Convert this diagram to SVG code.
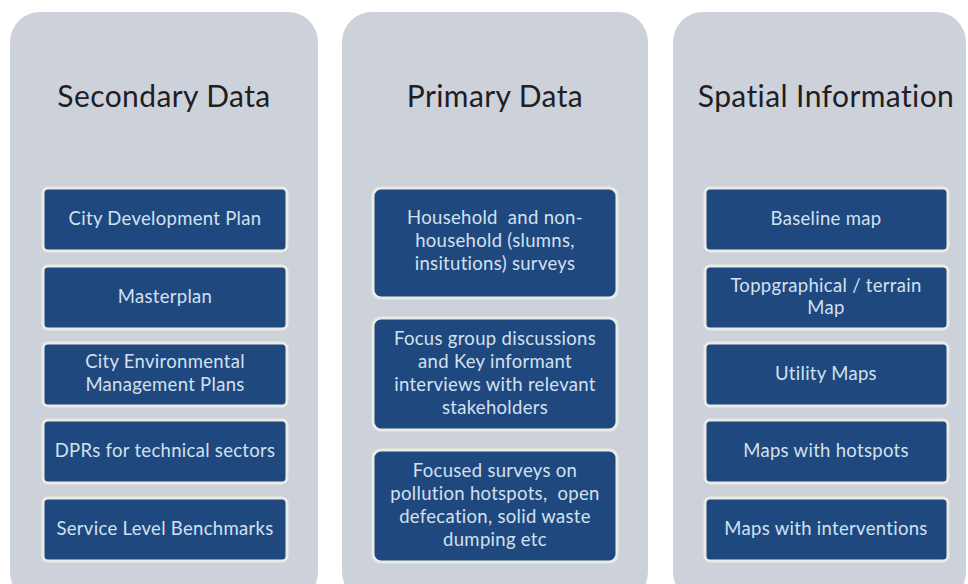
<svg xmlns="http://www.w3.org/2000/svg" width="968" height="584" viewBox="0 0 968 584">
  <defs>
    <style>
      .panel { fill: #cdd1d9; }
      .title { font-family: Lato, "Open Sans", "Liberation Sans", sans-serif; font-size: 30px; letter-spacing: 0.4px; fill: #1e1e24; text-anchor: middle; }
      .box { fill: #1f497e; stroke: #e9ece6; stroke-width: 3; }
      .lbl { font-family: Lato, "Open Sans", "Liberation Sans", sans-serif; font-size: 18.5px; letter-spacing: 0.3px; fill: #d3e0f0; text-anchor: middle; white-space: pre; }
    </style>
  </defs>
  <rect width="968" height="584" fill="#ffffff"/>

  <!-- Column 1: Secondary Data -->
  <g id="secondary">
    <rect class="panel" x="10" y="12" width="308" height="590" rx="30"/>
    <text class="title" x="164" y="107">Secondary Data</text>
  </g>
  <g id="city-development-plan">
    <rect class="box" x="43" y="188" width="244" height="63" rx="5"/>
    <text class="lbl" x="165" y="225">City Development Plan</text>
  </g>
  <g id="masterplan">
    <rect class="box" x="43" y="266" width="244" height="63" rx="5"/>
    <text class="lbl" x="165" y="303">Masterplan</text>
  </g>
  <g id="city-environmental">
    <rect class="box" x="43" y="343" width="244" height="63" rx="5"/>
    <text class="lbl" x="165" y="368">City Environmental</text>
    <text class="lbl" x="165" y="391">Management Plans</text>
  </g>
  <g id="dprs">
    <rect class="box" x="43" y="420" width="244" height="63" rx="5"/>
    <text class="lbl" x="165" y="457">DPRs for technical sectors</text>
  </g>
  <g id="service-level">
    <rect class="box" x="43" y="498" width="244" height="63" rx="5"/>
    <text class="lbl" x="165" y="535">Service Level Benchmarks</text>
  </g>

  <!-- Column 2: Primary Data -->
  <g id="primary">
    <rect class="panel" x="342" y="12" width="306" height="590" rx="30"/>
    <text class="title" x="495" y="107">Primary Data</text>
  </g>
  <g id="household-surveys">
    <rect class="box" x="373" y="188" width="244" height="110" rx="8"/>
    <text class="lbl" x="495" y="224">Household  and non-</text>
    <text class="lbl" x="495" y="247">household (slumns,</text>
    <text class="lbl" x="495" y="270">insitutions) surveys</text>
  </g>
  <g id="focus-groups">
    <rect class="box" x="373" y="318" width="244" height="112" rx="8"/>
    <text class="lbl" x="495" y="345">Focus group discussions</text>
    <text class="lbl" x="495" y="368">and Key informant</text>
    <text class="lbl" x="495" y="391">interviews with relevant</text>
    <text class="lbl" x="495" y="414">stakeholders</text>
  </g>
  <g id="focused-surveys">
    <rect class="box" x="373" y="450" width="244" height="112" rx="8"/>
    <text class="lbl" x="495" y="477">Focused surveys on</text>
    <text class="lbl" x="495" y="500">pollution hotspots,  open</text>
    <text class="lbl" x="495" y="523">defecation, solid waste</text>
    <text class="lbl" x="495" y="546">dumping etc</text>
  </g>

  <!-- Column 3: Spatial Information -->
  <g id="spatial">
    <rect class="panel" x="673" y="12" width="293" height="590" rx="30"/>
    <text class="title" x="826" y="107">Spatial Information</text>
  </g>
  <g id="baseline-map">
    <rect class="box" x="705" y="188" width="243" height="63" rx="5"/>
    <text class="lbl" x="826" y="225">Baseline map</text>
  </g>
  <g id="topographical-map">
    <rect class="box" x="705" y="266" width="243" height="63" rx="5"/>
    <text class="lbl" x="826" y="292">Toppgraphical / terrain</text>
    <text class="lbl" x="826" y="314">Map</text>
  </g>
  <g id="utility-maps">
    <rect class="box" x="705" y="343" width="243" height="63" rx="5"/>
    <text class="lbl" x="826" y="380">Utility Maps</text>
  </g>
  <g id="hotspot-maps">
    <rect class="box" x="705" y="420" width="243" height="63" rx="5"/>
    <text class="lbl" x="826" y="457">Maps with hotspots</text>
  </g>
  <g id="intervention-maps">
    <rect class="box" x="705" y="498" width="243" height="63" rx="5"/>
    <text class="lbl" x="826" y="535">Maps with interventions</text>
  </g>

  <!-- no connectors in this figure -->
  <g id="connectors"/>
</svg>
